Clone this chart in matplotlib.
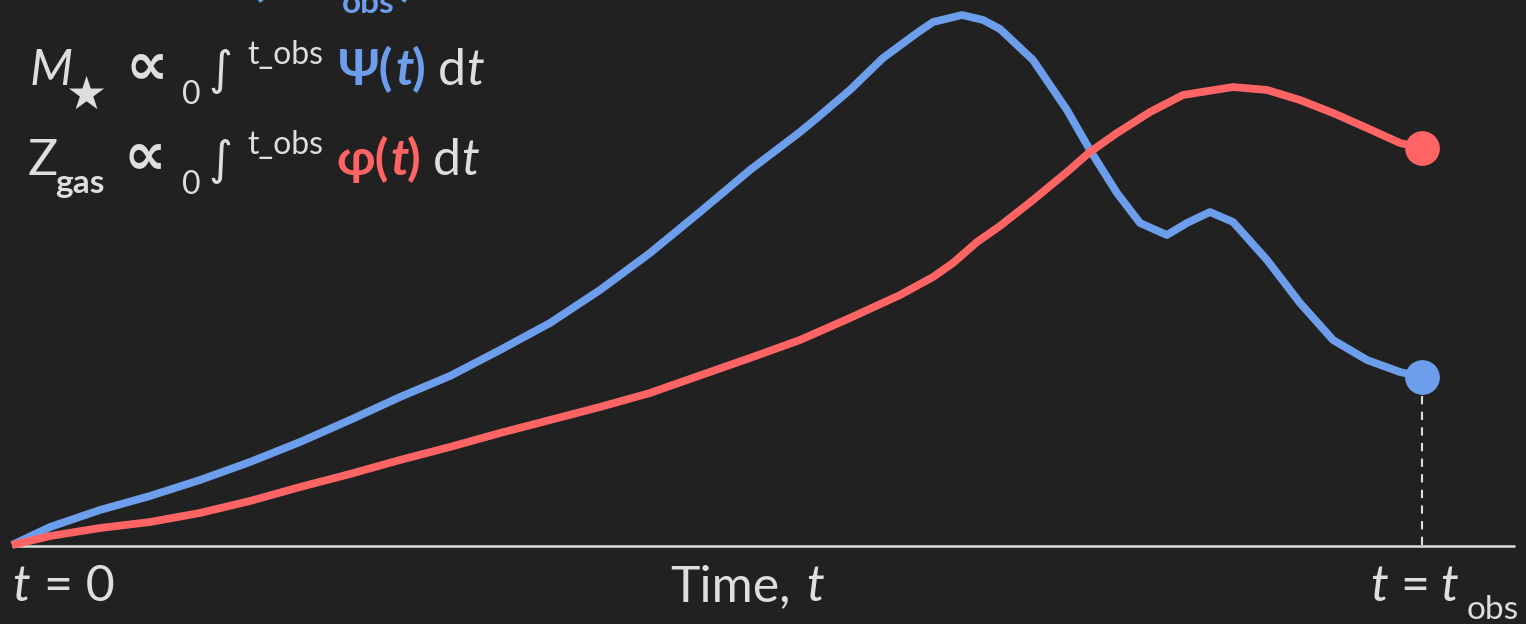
import matplotlib
matplotlib.use("Agg")
import matplotlib.pyplot as plt

# ---- data (time in units of t_obs, quantities normalised to the SFR peak) ----
t_blue = [0.0000, 0.0270, 0.0624, 0.0979, 0.1333, 0.1688, 0.2043, 0.2397, 0.2752, 0.3106,
          0.3461, 0.3816, 0.4170, 0.4525, 0.4879, 0.5234, 0.5589, 0.5709, 0.5943, 0.6177,
          0.6418, 0.6532, 0.6738, 0.6887, 0.7007, 0.7241, 0.7482, 0.7645, 0.7837, 0.8000,
          0.8191, 0.8333, 0.8496, 0.8660, 0.8901, 0.9135, 0.9369, 0.9610, 0.9844, 1.0000]
psi = [0.0000, 0.0339, 0.0659, 0.0923, 0.1224, 0.1563, 0.1940, 0.2354, 0.2787, 0.3183,
       0.3672, 0.4181, 0.4802, 0.5499, 0.6271, 0.7062, 0.7778, 0.8041, 0.8569, 0.9171,
       0.9642, 0.9849, 0.9981, 0.9887, 0.9718, 0.9134, 0.8192, 0.7439, 0.6629, 0.6064,
       0.5838, 0.6064, 0.6271, 0.6083, 0.5367, 0.4557, 0.3861, 0.3484, 0.3258, 0.3164]

t_red = [0.0000, 0.0270, 0.0624, 0.0979, 0.1333, 0.1688, 0.2043, 0.2397, 0.2752, 0.3106,
         0.3461, 0.3816, 0.4170, 0.4525, 0.4787, 0.5234, 0.5589, 0.5943, 0.6298, 0.6532,
         0.6674, 0.6844, 0.7007, 0.7241, 0.7482, 0.7645, 0.7837, 0.8071, 0.8305, 0.8660,
         0.8901, 0.9135, 0.9369, 0.9610, 0.9844, 1.0000]
phi = [0.0000, 0.0169, 0.0320, 0.0433, 0.0603, 0.0829, 0.1092, 0.1337, 0.1601, 0.1846,
       0.2109, 0.2354, 0.2599, 0.2863, 0.3107, 0.3522, 0.3861, 0.4275, 0.4708, 0.5047,
       0.5311, 0.5706, 0.6008, 0.6497, 0.7024, 0.7401, 0.7759, 0.8154, 0.8475, 0.8625,
       0.8569, 0.8380, 0.8136, 0.7853, 0.7571, 0.7476]

t_obs = 1.0

BG = "#212121"
BLUE = "#6c9eeb"
RED = "#ff6464"
FG = "#dedede"

W, H = 1526, 624
fig = plt.figure(figsize=(W / 100, H / 100), dpi=100, facecolor=BG)
ax = fig.add_axes([0, 0, 1, 1])
ax.set_facecolor(BG)
ax.axis("off")

ax.set_xlim(-12 / 1410, (W - 12) / 1410)
ax.set_ylim(-(H - 545) / 531, 545 / 531)

# baseline axis
ax.plot([0, 1503 / 1410], [-1 / 531, -1 / 531], color=FG, lw=1.8, solid_capstyle="butt", zorder=1)
# dashed marker line
ax.plot([t_obs, t_obs], [0, psi[-1]], color=FG, lw=1.5, ls=(0, (4, 3.5)), zorder=1)

ax.plot(t_blue, psi, color=BLUE, lw=5.6, solid_capstyle="butt", solid_joinstyle="round", zorder=2)
ax.plot(t_red, phi, color=RED, lw=5.6, solid_capstyle="butt", solid_joinstyle="round", zorder=3)
ax.plot([t_obs], [psi[-1]], "o", color=BLUE, ms=25, mew=0, zorder=4)
ax.plot([t_obs], [phi[-1]], "o", color=RED, ms=25, mew=0, zorder=4)

FAM = ["Lato", "Noto Sans", "DejaVu Sans"]


def txt(x, y, s, size, color=FG, weight="normal", style="normal", ha="left", fam=FAM):
    fig.text(x / W, 1 - y / H, s, fontsize=size, color=color, fontweight=weight,
             fontstyle=style, ha=ha, va="baseline", family=fam)


MAIN = 36
SUB = 23
SUP = 23

# cut-off top line
txt(250, -5, "(", MAIN, BLUE, "bold")
txt(342, 13, "obs", 24, BLUE, "bold")
txt(400, -5, ")", MAIN, BLUE, "bold")

# line 1
txt(30, 85, "M", MAIN, style="italic")
txt(65, 109, "★", 33, fam=["DejaVu Sans"])
txt(126, 83, "∝", 43, weight="bold", fam=["DejaVu Sans"])
txt(182, 104, "0", SUB)
txt(208, 84, "∫", 33, fam=["DejaVu Sans"])
txt(247, 64, "t_obs", SUP)
txt(338, 85, "Ψ(", MAIN, BLUE, "bold")
txt(395, 85, "t", MAIN, BLUE, "bold", "italic")
txt(412, 85, ")", MAIN, BLUE, "bold")
txt(438, 85, "d", MAIN)
txt(466, 85, "t", MAIN, style="italic")

# line 2
txt(28, 175, "Z", MAIN)
txt(55, 193, "gas", 24, weight="bold")
txt(124, 173, "∝", 43, weight="bold", fam=["DejaVu Sans"])
txt(182, 194, "0", SUB)
txt(208, 174, "∫", 33, fam=["DejaVu Sans"])
txt(247, 154, "t_obs", SUP)
txt(336, 175, "φ(", MAIN, RED, "bold")
txt(390, 175, "t", MAIN, RED, "bold", "italic")
txt(407, 175, ")", MAIN, RED, "bold")
txt(433, 175, "d", MAIN)
txt(461, 175, "t", MAIN, style="italic")

# x labels
txt(12, 601, "t", MAIN, style="italic")
txt(44, 601, "= 0", MAIN)
txt(670, 601, "Time,", MAIN)
txt(806, 601, "t", MAIN, style="italic")
txt(1370, 601, "t", MAIN, style="italic")
txt(1400, 601, "=", MAIN)
txt(1440, 601, "t", MAIN, style="italic")
txt(1467, 619, "obs", 24)

fig.savefig("out.png", dpi=100, facecolor=BG)
